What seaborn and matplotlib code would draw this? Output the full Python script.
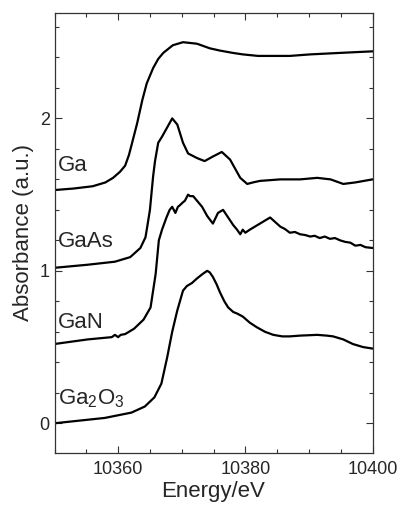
import numpy as np
import pandas as pd
import matplotlib
matplotlib.use("Agg")
import matplotlib.pyplot as plt
from matplotlib.ticker import MultipleLocator
import seaborn as sns

# Ga K-edge XANES spectra (offset vertically)
ga_e = [10350, 10353, 10356, 10358, 10359.2, 10360.3, 10361.1, 10361.7, 10362.2, 10363.0,
        10363.8, 10364.5, 10365.5, 10366.3, 10367.1, 10368.6, 10370.2, 10372.4, 10374.4,
        10376.0, 10378, 10379.6, 10382, 10384.4, 10387, 10390.2, 10395, 10400]
ga_a = [1.53, 1.54, 1.555, 1.58, 1.61, 1.65, 1.69, 1.76, 1.84, 1.97, 2.12, 2.23, 2.33,
        2.39, 2.43, 2.48, 2.50, 2.49, 2.46, 2.445, 2.43, 2.42, 2.41, 2.41, 2.41, 2.42,
        2.43, 2.44]

gaas_e = [10350, 10355.2, 10359.5, 10361.9, 10363.5, 10364.3, 10364.5, 10365.0, 10365.5,
          10365.8, 10366.3, 10366.9, 10367.7, 10368.5, 10369.3, 10370.2, 10371.0, 10372.4,
          10373.6, 10374.9, 10376.3, 10377.6, 10378.4, 10379.2, 10380.3, 10381.2, 10382.3,
          10385.5, 10388.6, 10391.3, 10393.4, 10395.4, 10397.3, 10400]
gaas_a = [1.02, 1.04, 1.06, 1.09, 1.15, 1.22, 1.27, 1.40, 1.62, 1.72, 1.84, 1.88, 1.94,
          2.00, 1.96, 1.84, 1.77, 1.74, 1.72, 1.75, 1.78, 1.73, 1.67, 1.61, 1.57, 1.58,
          1.59, 1.60, 1.60, 1.61, 1.60, 1.57, 1.58, 1.60]

gan_e = [10350.0, 10355.2, 10359.0, 10359.5, 10360.0, 10360.4, 10361.1, 10362.5, 10364.0,
         10365.1, 10365.9, 10366.4, 10366.9, 10367.6, 10368.1, 10368.5, 10369.0, 10369.4,
         10369.7, 10370.2, 10370.5, 10371.0, 10371.3, 10371.8, 10372.4, 10373.2, 10374.0,
         10374.9, 10375.7, 10376.5, 10377.3, 10378.1, 10378.7, 10379.2, 10379.6, 10380.0,
         10380.7, 10381.5, 10382.3, 10383.1, 10383.9, 10384.7, 10385.5, 10386.2, 10387.0,
         10387.8, 10388.6, 10389.4, 10390.2, 10390.9, 10391.7, 10392.5, 10393.3, 10394.1,
         10394.9, 10395.7, 10396.5, 10397.3, 10398.1, 10398.9, 10400.0]
gan_a = [0.52, 0.55, 0.565, 0.58, 0.565, 0.58, 0.585, 0.62, 0.68, 0.76, 0.98, 1.20, 1.27,
         1.35, 1.40, 1.42, 1.38, 1.42, 1.43, 1.45, 1.46, 1.50, 1.49, 1.49, 1.46, 1.42,
         1.36, 1.31, 1.38, 1.40, 1.35, 1.30, 1.27, 1.24, 1.27, 1.25, 1.27, 1.29, 1.31,
         1.33, 1.35, 1.32, 1.29, 1.275, 1.25, 1.255, 1.24, 1.235, 1.225, 1.23, 1.215,
         1.225, 1.21, 1.215, 1.20, 1.19, 1.185, 1.165, 1.17, 1.155, 1.15]

ga2o3_e = [10350, 10357.9, 10362.1, 10364.2, 10365.7, 10366.8, 10367.7, 10368.5, 10369.3,
           10370.2, 10370.8, 10371.6, 10372.4, 10373.3, 10374.0, 10374.4, 10374.9, 10375.5,
           10376.0, 10376.7, 10377.3, 10378.1, 10378.7, 10379.6, 10380.7, 10381.8, 10383.1,
           10384.4, 10385.8, 10387.0, 10388.6, 10391.3, 10392.8, 10393.8, 10395.4, 10396.9,
           10398.5, 10400]
ga2o3_a = [0.0, 0.035, 0.07, 0.11, 0.17, 0.26, 0.43, 0.60, 0.74, 0.87, 0.90, 0.92, 0.95,
           0.98, 1.00, 0.99, 0.96, 0.91, 0.86, 0.80, 0.76, 0.73, 0.72, 0.70, 0.66, 0.63,
           0.60, 0.58, 0.57, 0.57, 0.575, 0.58, 0.575, 0.57, 0.55, 0.52, 0.50, 0.49]

labels = ["Ga", "GaAs", "GaN", "Ga$_2$O$_3$"]
label_y = [1.69, 1.19, 0.66, 0.16]

sns.set_style("ticks")
plt.rcParams['font.family'] = ['Liberation Sans', 'DejaVu Sans']
plt.rcParams['mathtext.fontset'] = 'custom'
plt.rcParams['mathtext.rm'] = 'Liberation Sans'

fig = plt.figure(figsize=(4.01, 5.05), dpi=100)
ax = fig.add_axes([0.136, 0.1036, 0.793, 0.8714])

for e, a in [(ga_e, ga_a), (gaas_e, gaas_a), (gan_e, gan_a), (ga2o3_e, ga2o3_a)]:
    df = pd.DataFrame({"E": e, "A": a})
    sns.lineplot(data=df, x="E", y="A", ax=ax, color="black", linewidth=1.6,
                 sort=False, estimator=None)

for lab, y in zip(labels, label_y):
    ax.text(10350.55, y, lab, fontsize=16, va="center", ha="left")

ax.set_xlim(10350, 10400)
ax.set_ylim(-0.193, 2.694)
ax.xaxis.set_major_locator(MultipleLocator(20))
ax.xaxis.set_minor_locator(MultipleLocator(5))
ax.yaxis.set_major_locator(MultipleLocator(1))
ax.yaxis.set_minor_locator(MultipleLocator(0.2))
ax.tick_params(which="both", direction="in", top=True, right=True, labelsize=13,
               width=0.8, color="#333333")
ax.tick_params(which="major", length=5)
ax.tick_params(which="minor", length=3)
ax.tick_params(axis="x", pad=6)
for s in ax.spines.values():
    s.set_linewidth(0.9)
    s.set_color("#333333")

ax.set_xlabel("Energy/eV", fontsize=16, labelpad=2)
ax.set_ylabel("Absorbance (a.u.)", fontsize=16, labelpad=4)

fig.savefig("out.png", dpi=100)
